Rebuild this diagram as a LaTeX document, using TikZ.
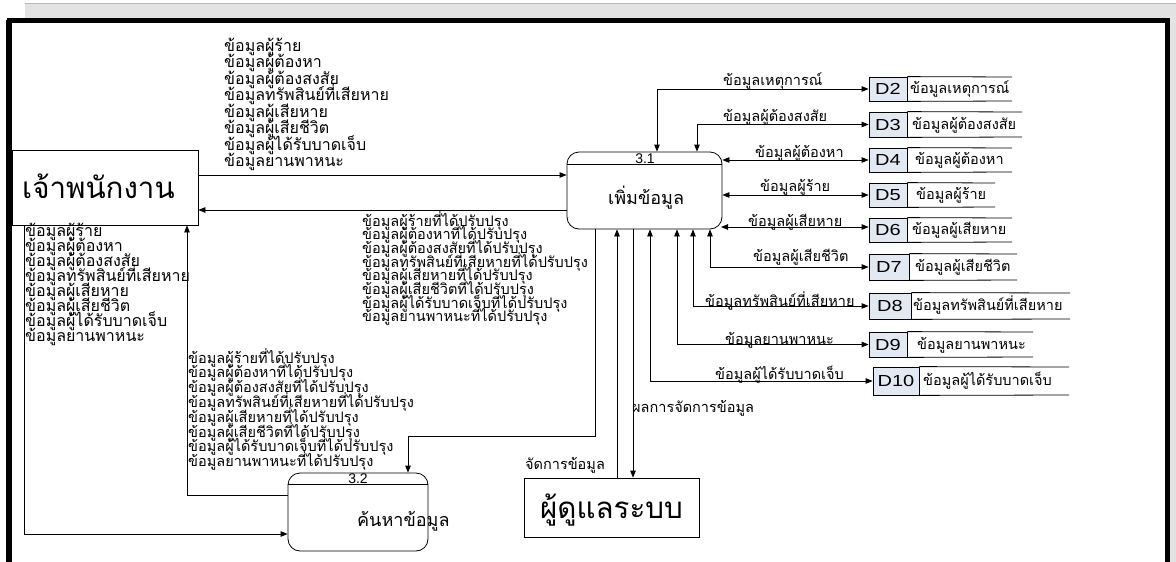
\documentclass[tikz,border=0pt]{standalone}
\usepackage{fontspec}
\usepackage{graphicx}
\setmainfont{Liberation Sans}
\newfontfamily\thai[Script=Thai]{Loma}
\usetikzlibrary{arrows.meta,calc}
\definecolor{idfill}{HTML}{E3E9F3}
\newcommand{\mydstore}[9]{%
  \node[idbox, minimum width={#5pt-#4pt}, minimum height={#8pt-#7pt}] (#1) at ({(#4+#5)/2},{(#7+#8)/2}) {\scalebox{1.25}[1]{#2}};
  \draw[thin] (#1.north east) -- (#6,#7);
  \draw[thin] (#1.south east) -- (#6,#8);
  \node[lbl, anchor=base west] (#1l) at (#9,{(#7+#8)/2+4.5}) {#3};
}
\begin{document}
\begin{tikzpicture}[x=1pt,y=-1pt,
  flow/.style={draw, line width=0.8pt, -{Triangle[length=7pt,width=5.5pt]}},
  both/.style={draw, line width=0.8pt, {Triangle[length=7pt,width=5.5pt]}-{Triangle[length=7pt,width=5.5pt]}},
  lbl/.style={font=\thai\fontsize{14.5}{16}\selectfont, inner sep=0pt},
  lblb/.style={font=\thai\fontsize{16}{17}\selectfont, inner sep=0pt},
  big/.style={font=\thai\fontsize{29.5}{31}\selectfont, inner sep=0pt},
  mid/.style={font=\thai\fontsize{18}{20}\selectfont, inner sep=0pt},
  num/.style={font=\fontsize{14}{14}\selectfont, inner sep=0pt},
  proc/.style={draw, line width=0.8pt, rounded corners=12pt, inner sep=0pt},
  ent/.style={draw, line width=0.8pt, inner sep=0pt},
  idbox/.style={draw, thin, fill=idfill, inner sep=0pt, font=\fontsize{16}{16}\selectfont},
  thin/.style={line width=0.8pt}]
\useasboundingbox (0,0) rectangle (1176,562);
\clip (0,0) rectangle (1176,562);
% frame
\fill[gray!22] (25,3) rectangle (1176,580);
\draw[gray!55] (25,3) -- (1176,3);
\draw[line width=5pt, fill=white] (9.5,20.5) rectangle (1167.5,600);
\draw[line width=3pt] (7,20) -- (7,600);

% external entities
\node[ent, minimum width=186pt, minimum height=75pt] (ent) at (105,187.5) {};
\node[big, anchor=base west] (entt) at (22,198) {เจ้าพนักงาน};
\node[ent, minimum width=175pt, minimum height=59pt] (adm) at (611.5,507.5) {};
\node[big, anchor=base west] (admt) at (540,518) {ผู้ดูแลระบบ};

% processes
\node[proc, minimum width=155pt, minimum height=77pt] (p31) at (644.5,190.5) {};
\draw[thin] ($(p31.north west)+(0,13)$) -- ($(p31.north east)+(0,13)$);
\node[num, anchor=base] (p31n) at (645,163.5) {3.1};
\node[mid, anchor=base west] (p31t) at (608,204) {เพิ่มข้อมูล};
\node[proc, minimum width=140pt, minimum height=78pt] (p32) at (358,512) {};
\draw[thin] ($(p32.north west)+(0,12)$) -- ($(p32.north east)+(0,12)$);
\node[num, anchor=base] (p32n) at (358,483.5) {3.2};
\node[mid, anchor=base west] (p32t) at (357,526) {ค้นหาข้อมูล};

% data stores
\mydstore{d2}{D2}{ข้อมูลเหตุการณ์}{869}{907}{1012}{77}{101}{910}
\mydstore{d3}{D3}{ข้อมูลผู้ต้องสงสัย}{869}{907}{1022}{112}{137}{912}
\mydstore{d4}{D4}{ข้อมูลผู้ต้องหา}{869}{907}{1012}{148}{172}{915}
\mydstore{d5}{D5}{ข้อมูลผู้ร้าย}{869}{907}{995}{183}{207}{916}
\mydstore{d6}{D6}{ข้อมูลผู้เสียหาย}{869}{907}{1012}{218}{242}{912}
\mydstore{d7}{D7}{ข้อมูลผู้เสียชีวิต}{869}{909}{1017}{254}{280}{915}
\mydstore{d8}{D8}{ข้อมูลทรัพสินย์ที่เสียหาย}{869}{911}{1070}{293}{319}{913}
\mydstore{d9}{D9}{ข้อมูลยานพาหนะ}{869}{907}{1033}{332}{357}{917}
\mydstore{d10}{D10}{ข้อมูลผู้ได้รับบาดเจ็บ}{873}{919}{1069}{367}{395}{923}

% coordinates
\coordinate (yA) at (0,175);
\coordinate (yB) at (0,210);
\coordinate (xL) at (24,0);
\coordinate (yC) at (0,534);
\coordinate (xR) at (187,0);
\coordinate (yD) at (0,495);
\coordinate (xM) at (595,0);
\coordinate (yM) at (0,436);
\coordinate (xN) at (408,0);
\coordinate (xA) at (617,0);
\coordinate (xB) at (633,0);
\coordinate (x2) at (657,0);
\coordinate (x3) at (697,0);
\coordinate (c6) at (721,227);
\coordinate (x7) at (710,0);
\coordinate (x8) at (693,0);
\coordinate (x9) at (677,0);
\coordinate (x10) at (650,0);

% flows
\draw[flow] (ent.east |- yA) -- (p31.west |- yA);
\draw[flow] (p31.west |- yB) -- (ent.east |- yB);
\draw[flow] (ent.south -| xL) |- (p32.west |- yC);
\draw[flow] (p32.west |- yD) -| (ent.south -| xR);
\draw[flow] (p31.south -| xM) -- (xM |- yM) -| (p32.north -| xN);
\draw[flow] (adm.north -| xA) -- (p31.south -| xA);
\draw[flow] (p31.south -| xB) -- (adm.north -| xB);
\draw[both] (p31.north -| x2) |- (d2.west);
\draw[both] (p31.north -| x3) |- (d3.west);
\draw[both] (p31.east |- d4.west) -- (d4.west);
\draw[both] (p31.east |- d5.west) -- (d5.west);
\draw[both] (c6) -- (c6 -| d6.west);
\draw[both] (p31.south -| x7) |- (d7.west);
\draw[both] (p31.south -| x8) |- (d8.west);
\draw[both] (p31.south -| x9) |- (d9.west);
\draw[both] (p31.south -| x10) |- (d10.west);

% flow labels
\node[lbl, anchor=base west] (l2) at (723,85) {ข้อมูลเหตุการณ์};
\node[lbl, anchor=base west] (l3) at (723,121) {ข้อมูลผู้ต้องสงสัย};
\node[lbl, anchor=base west] (l4) at (755,157) {ข้อมูลผู้ต้องหา};
\node[lbl, anchor=base west] (l5) at (760,191) {ข้อมูลผู้ร้าย};
\node[lbl, anchor=base west] (l6) at (748,226) {ข้อมูลผู้เสียหาย};
\node[lbl, anchor=base west] (l7) at (753,261) {ข้อมูลผู้เสียชีวิต};
\node[lbl, anchor=base west] (l8) at (705,306) {ข้อมูลทรัพสินย์ที่เสียหาย};
\node[lbl, anchor=base west] (l9) at (725,344) {ข้อมูลยานพาหนะ};
\node[lbl, anchor=base west] (l10) at (715,379) {ข้อมูลผู้ได้รับบาดเจ็บ};
\node[lbl, anchor=base west] (lres) at (632,412) {ผลการจัดการข้อมูล};
\node[lbl, anchor=base west] (lman) at (525,469) {จัดการข้อมูล};

\foreach \t [count=\i] in {ข้อมูลผู้ร้าย,ข้อมูลผู้ต้องหา,ข้อมูลผู้ต้องสงสัย,ข้อมูลทรัพสินย์ที่เสียหาย,ข้อมูลผู้เสียหาย,ข้อมูลผู้เสียชีวิต,ข้อมูลผู้ได้รับบาดเจ็บ,ข้อมูลยานพาหนะ}{
  \node[lblb, anchor=base west] (ta\i) at (224,{51+16.5*(\i-1)}) {\t};
  \node[lblb, anchor=base west] (tb\i) at (25,{236+15*(\i-1)}) {\t};
  \node[lbl, anchor=base west] (tc\i) at (362,{226+13.7*(\i-1)}) {\t ที่ได้ปรับปรุง};
  \node[lbl, anchor=base west] (td\i) at (188,{363+14.8*(\i-1)}) {\t ที่ได้ปรับปรุง};
}
\end{tikzpicture}
\end{document}
